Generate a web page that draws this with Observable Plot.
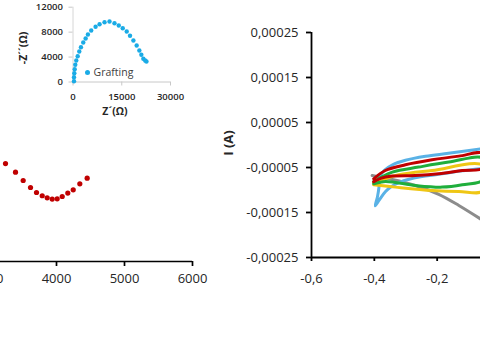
<!DOCTYPE html>
<html>
<head>
<meta charset="utf-8">
<script src="https://cdn.jsdelivr.net/npm/d3@7"></script>
<script src="https://cdn.jsdelivr.net/npm/@observablehq/plot@0.6"></script>
<style>
  html, body { margin: 0; padding: 0; background: #fff; }
  #wrap { position: relative; width: 480px; height: 362px; overflow: hidden; background: #fff; font-family: "Open Sans", sans-serif; color: #262626; }
  #wrap svg { position: absolute; background: transparent; overflow: visible; max-width: none !important; }
  .lbl { position: absolute; white-space: nowrap; font-family: "Open Sans", sans-serif; color: #262626; }
</style>
</head>
<body>
<div id="wrap"></div>
<script>
// ---- Main Nyquist plot (left, partially visible) ----
const nyqZre = [3250, 3397, 3510, 3618, 3706, 3790, 3863, 3937, 4010, 4084, 4166, 4246, 4343, 4451];
const nyqZim = [1446, 1319, 1196, 1093, 1019, 971, 941, 922, 926, 960, 1010, 1059, 1147, 1231];
const nyqXTicks = [3000, 4000, 5000, 6000];

// ---- Inset Nyquist plot "Grafting" ----
const insZre = [306, 306, 398, 520, 704, 1010, 1439, 1929, 2449, 3153, 3888, 4592, 5602, 6949, 8173, 9704, 11235, 12765, 14082, 15306, 16531, 17541, 18582, 19592, 20418, 21031, 21643, 22200, 22600];
const insZim = [128, 770, 1412, 2053, 2759, 3449, 4139, 4893, 5583, 6337, 6979, 7620, 8262, 8856, 9273, 9594, 9706, 9433, 9064, 8631, 8102, 7412, 6658, 5856, 5053, 4364, 3722, 3450, 3300];
const insXTicks = [0, 15000, 30000];
const insYTicks = [0, 4000, 8000, 12000];
const insLegend = "Grafting";

// ---- Cyclic voltammetry (right) ----
const cvXTicks = [-0.6, -0.4, -0.2];
const cvYTicks = [-0.00025, -0.00015, -0.00005, 0.00005, 0.00015, 0.00025];
const cvGrayE = [-0.407, -0.380, -0.343, -0.269, -0.195, -0.131, -0.053];
const cvGrayI = [-0.0000678, -0.0000718, -0.0000767, -0.00009, -0.0001096, -0.0001344, -0.0001684];
const cvBlueE = [-0.053, -0.164, -0.237, -0.301, -0.342, -0.368, -0.382, -0.385, -0.390, -0.397, -0.384, -0.365, -0.349, -0.317, -0.253, -0.196, -0.120, -0.053];
const cvBlueI = [-0.0000078, -0.0000184, -0.0000251, -0.000034, -0.000044, -0.0000562, -0.0000707, -0.0000929, -0.0001151, -0.0001351, -0.0001218, -0.000104, -0.000094, -0.0000818, -0.0000707, -0.0000651, -0.0000573, -0.0000518];
const cvYellowE = [-0.402, -0.322, -0.216, -0.053, -0.053, -0.131, -0.216, -0.333, -0.402];
const cvYellowI = [-0.000084, -0.0000662, -0.0000567, -0.0000458, -0.0001018, -0.0001033, -0.0001011, -0.0000936, -0.0000884];
const cvGreenE = [-0.402, -0.343, -0.259, -0.163, -0.053, -0.053, -0.120, -0.184, -0.269, -0.365, -0.402];
const cvGreenI = [-0.0000811, -0.0000602, -0.0000491, -0.000038, -0.00003, -0.0000773, -0.0000884, -0.0000936, -0.00009, -0.0000811, -0.0000862];
const cvRedE = [-0.402, -0.365, -0.301, -0.216, -0.131, -0.053, -0.053, -0.120, -0.195, -0.269, -0.343, -0.380, -0.402];
const cvRedI = [-0.0000751, -0.0000567, -0.000044, -0.0000329, -0.0000247, -0.0000189, -0.0000507, -0.0000567, -0.000064, -0.0000678, -0.0000691, -0.000074, -0.0000818];

const cvSeries = [
  {name: "S1", color: "#8c8c8c", E: cvGrayE, I: cvGrayI},
  {name: "S2", color: "#5ab2e6", E: cvBlueE, I: cvBlueI},
  {name: "S3", color: "#efc614", E: cvYellowE, I: cvYellowI},
  {name: "S4", color: "#1fae3c", E: cvGreenE, I: cvGreenI},
  {name: "S5", color: "#c00000", E: cvRedE, I: cvRedI}
];

const wrap = document.getElementById("wrap");
const comma = (d, p) => d === 0 ? "0" : d.toFixed(p).replace(".", ",");
const baseStyle = (size) => ({fontFamily: "Open Sans", fontSize: size, color: "#262626", background: "transparent", overflow: "visible", maxWidth: "none"});

// Left main plot
const nyqData = nyqZre.map((x, i) => ({x, y: nyqZim[i]}));
const leftPlot = Plot.plot({
  width: 312, height: 302,
  marginLeft: 20, marginRight: 20, marginTop: 24, marginBottom: 41,
  style: baseStyle("13px"),
  x: {domain: [2000, 6000]},
  y: {domain: [0, 3500]},
  marks: [
    Plot.ruleY([0], {stroke: "#000", strokeWidth: 1.7}),
    Plot.axisX({ticks: nyqXTicks, tickSize: 5, tickPadding: 7, strokeWidth: 1.7, stroke: "#000", label: null, tickFormat: d => String(d)}),
    Plot.axisY({ticks: [], label: null}),
    Plot.dot(nyqData, {x: "x", y: "y", r: 2.6, fill: "#c00000", stroke: "none"})
  ]
});
leftPlot.style.left = "-100px"; leftPlot.style.top = "0px";
wrap.appendChild(leftPlot);

// Inset
const insData = insZre.map((x, i) => ({x, y: insZim[i]}));
const inset = Plot.plot({
  width: 200, height: 110,
  marginLeft: 72.5, marginRight: 30, marginTop: 6.7, marginBottom: 28.5,
  style: baseStyle("9.5px"),
  x: {domain: [0, 30000]},
  y: {domain: [0, 12000]},
  marks: [
    Plot.ruleY([0], {stroke: "#c8c8c8", strokeWidth: 1}),
    Plot.ruleX([0], {stroke: "#d6d6d6", strokeWidth: 1}),
    Plot.axisX({ticks: insXTicks, tickSize: 4, tickPadding: 7, stroke: "#c8c8c8", fill: "#262626", fontWeight: 600, label: null, tickFormat: d => String(d)}),
    Plot.axisY({ticks: insYTicks, tickSize: 4, tickPadding: 6, stroke: "#c8c8c8", fill: "#262626", fontWeight: 600, label: null, tickFormat: d => String(d)}),
    Plot.dot(insData, {x: "x", y: "y", r: 2.2, fill: "#1aabe6", stroke: "none"})
  ]
});
inset.style.left = "0px"; inset.style.top = "0px";
wrap.appendChild(inset);

// Right CV plot
const cvData = cvSeries.flatMap(s => s.E.map((e, i) => ({E: e, I: s.I[i], s: s.name})));
const cvPlot = Plot.plot({
  width: 497, height: 300,
  marginLeft: 100, marginRight: 20, marginTop: 32, marginBottom: 43,
  style: baseStyle("13px"),
  x: {domain: [-0.6, 0.6]},
  y: {domain: [-0.00025, 0.00025]},
  color: {type: "ordinal", domain: cvSeries.map(s => s.name), range: cvSeries.map(s => s.color)},
  marks: [
    Plot.line(cvData, {x: "E", y: "I", z: "s", stroke: "s", strokeWidth: 3, curve: "catmull-rom"}),
    Plot.ruleX([-0.6], {stroke: "#000", strokeWidth: 1.8}),
    Plot.ruleY([-0.00025], {stroke: "#000", strokeWidth: 1.8}),
    Plot.axisY({ticks: cvYTicks, tickSize: 5, tickPadding: 8, strokeWidth: 1.8, stroke: "#000", label: null, tickFormat: d => comma(d, 5)}),
    Plot.axisX({ticks: cvXTicks, tickSize: 4, tickPadding: 12, strokeWidth: 1.8, stroke: "#000", label: null, tickFormat: d => comma(d, 1)})
  ]
});
cvPlot.style.left = "211px"; cvPlot.style.top = "0px";
wrap.appendChild(cvPlot);

// Titles and legend (text)
function addLabel(text, cx, cy, size, weight, rotate) {
  const el = document.createElement("div");
  el.className = "lbl";
  el.textContent = text;
  el.style.fontSize = size + "px";
  el.style.fontWeight = weight;
  el.style.left = cx + "px";
  el.style.top = cy + "px";
  el.style.lineHeight = "1";
  el.style.transform = "translate(-50%, -50%)" + (rotate ? " rotate(-90deg)" : "");
  wrap.appendChild(el);
  return el;
}
addLabel("Z´(Ω)", 115, 110.5, 10.5, 700, false);
addLabel("-Z´´(Ω)", 22.5, 47.5, 10.5, 700, true);
addLabel("I (A)", 228, 143, 13, 700, true);

const leg = document.createElement("div");
leg.className = "lbl";
leg.style.left = "84.5px"; leg.style.top = "65px"; leg.style.fontSize = "10.5px"; leg.style.lineHeight = "14px";
leg.style.color = "#404040";
leg.innerHTML = '<span style="display:inline-block;width:5px;height:5px;border-radius:50%;background:#1aabe6;margin-right:4px;vertical-align:middle;position:relative;top:-1px"></span>' + insLegend;
wrap.appendChild(leg);
</script>
</body>
</html>
